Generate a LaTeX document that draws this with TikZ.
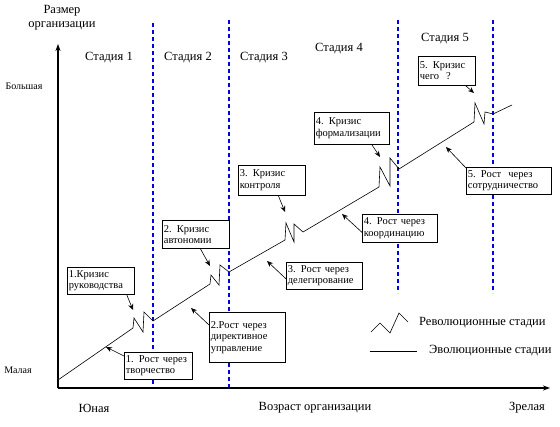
\documentclass[tikz,border=0pt]{standalone}
\usepackage{fontspec}
\setmainfont{Liberation Serif}
\usetikzlibrary{arrows.meta}

\begin{document}
\begin{tikzpicture}[x=1pt, y=-1pt,
    box/.style={rectangle, draw, fill=white, line width=0.7pt, inner sep=1.5pt, anchor=north west, align=left, font=\fontsize{10.5}{11.5}\selectfont},
    lbl/.style={font=\fontsize{12.5}{14}\selectfont, inner sep=0pt},
    small/.style={font=\fontsize{10}{12}\selectfont, inner sep=0pt},
    stage/.style={color={rgb,255:red,0;green,0;blue,230}, dash pattern=on 4pt off 3pt, line width=1.1pt},
    pointer/.style={-{Stealth[length=6pt, width=5pt]}, line width=0.6pt}]
        \useasboundingbox (0,0) rectangle (560,427);
        % stage borders
        \draw[stage] (153,23) -- (153,388);
        \draw[stage] (229,20) -- (229,388);
        \draw[stage] (398,20) -- (398,293);
        \draw[stage] (493,20) -- (493,293);
        % axes
        \coordinate (origin) at (58,388);
        \draw[line width=1.1pt, -{Stealth[length=7pt, width=5pt]}] (origin) -- (58,44);
        \draw[line width=1.1pt, -{Stealth[length=7pt, width=5pt]}] (origin) -- (550,388);
        % growth line with crises
        \draw[line width=0.6pt] (58,380) -- (133,328) -- (134,318) -- (143,332) -- (144,312) -- (153,321)
            -- (210,284) -- (211,275) -- (219,285) -- (220,265) -- (229,272)
            -- (285,240) -- (286,223) -- (294,242) -- (294,224) -- (303,232)
            -- (379,187) -- (380,167) -- (390,186) -- (390,158) -- (399,169)
            -- (474,122) -- (475,103) -- (484,124) -- (485,112) -- (493,114) -- (512,105);
        % axis and stage labels
        \node[lbl, align=center] (size) at (62,18) {Размер\\организации};
        \node[small] (big) at (24,86) {Большая};
        \node[small] (smallsize) at (18,370) {Малая};
        \node[lbl] (young) at (94,408) {Юная};
        \node[lbl] (age) at (315,408) {Возраст организации};
        \node[lbl] (mature) at (527,408) {Зрелая};
        \node[lbl] (st1) at (109,58) {Стадия 1};
        \node[lbl] (st2) at (188,58) {Стадия 2};
        \node[lbl] (st3) at (264,58) {Стадия 3};
        \node[lbl] (st4) at (339,49) {Стадия 4};
        \node[lbl] (st5) at (445,39) {Стадия 5};
        % boxes
        \node[box, text width=64pt, minimum height=27pt] (crisis1) at (67,267) {1.Кризис\\руководства};
        \node[box, text width=65pt, minimum height=27pt] (growth1) at (124,352) {1. Рост через\\творчество};
        \node[box, text width=64pt, minimum height=28pt] (crisis2) at (162,220) {2. Кризис\\автономии};
        \node[box, text width=73pt, minimum height=50pt] (growth2) at (209,312) {2.Рост через\\директивное\\управление};
        \node[box, text width=64pt, minimum height=30pt] (crisis3) at (238,165) {3. Кризис\\контроля};
        \node[box, text width=73pt, minimum height=27pt] (growth3) at (286,262) {3. Рост через\\делегирование};
        \node[box, text width=72pt, minimum height=32pt] (crisis4) at (314,112) {4. Кризис\\формализации};
        \node[box, text width=72pt, minimum height=28pt] (growth4) at (362,214) {4. Рост через\\координацию};
        \node[box, text width=54pt, minimum height=29pt] (crisis5) at (418,56) {5. Кризис\\чего \ ?};
        \node[box, text width=82pt, minimum height=27pt] (growth5) at (466,167) {5. Рост \ через\\сотрудничество};
        % pointers
        \coordinate (c1) at (133,310);
        \coordinate (g1) at (106,347);
        \coordinate (c2) at (210,266);
        \coordinate (g2) at (191,308);
        \coordinate (c3) at (285,212);
        \coordinate (g3) at (267,261);
        \coordinate (c4) at (380,157);
        \coordinate (g4) at (342,214);
        \coordinate (c5) at (474,93);
        \coordinate (g5) at (446,147);
        \draw[pointer] ([xshift=-8pt]crisis1.south east) -- (c1);
        \draw[pointer] ([yshift=-4pt]growth1.north west) -- (g1);
        \draw[pointer] ([xshift=4.5pt]crisis2.south) -- (c2);
        \draw[pointer] ([yshift=-13pt]growth2.north west) -- (g2);
        \draw[pointer] ([xshift=6.5pt]crisis3.south) -- (c3);
        \draw[pointer] ([yshift=-3pt]growth3.west) -- (g3);
        \draw[pointer] ([xshift=20pt]crisis4.south) -- (c4);
        \draw[pointer] ([yshift=-4pt]growth4.west) -- (g4);
        \draw[pointer] ([xshift=-10pt]crisis5.south east) -- (c5);
        \draw[pointer] ([yshift=-1pt]growth5.north west) -- (g5);
        % legend
        \draw[line width=0.6pt] (371,332) -- (380,323) -- (390,333) -- (399,313) -- (408,322);
        \draw[line width=0.6pt] (370,351) -- (417,351);
        \node[lbl, anchor=west] (revo) at (419,323) {Революционные стадии};
        \node[lbl, anchor=west] (evo) at (429,351) {Эволюционные стадии};
      \end{tikzpicture}
\end{document}
